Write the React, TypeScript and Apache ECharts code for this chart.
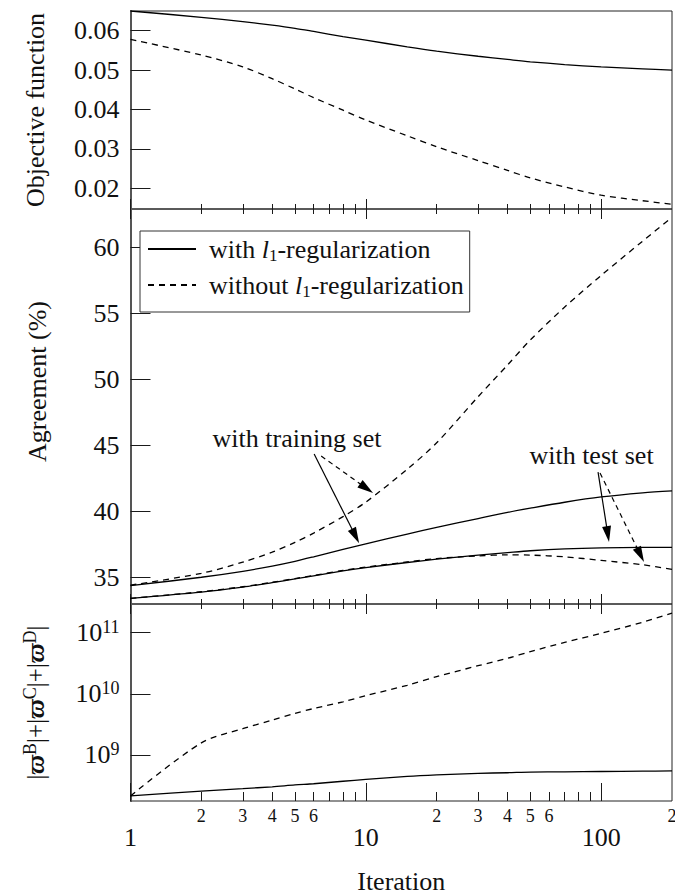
import React, { useEffect, useRef } from 'react';
import * as echarts from 'echarts';

const FONT = "'Liberation Serif', 'Times New Roman', Times, serif";

// ---- data ----
const iterations = [1, 2, 3, 4, 5, 6, 8, 10, 15, 20, 30, 40, 50, 70, 100, 150, 200];

const objectiveWith = [0.065, 0.0634, 0.0623, 0.0614, 0.0606, 0.0598, 0.0585, 0.0576, 0.0559, 0.0548, 0.0535, 0.0527, 0.0521, 0.0514, 0.0508, 0.0503, 0.05];
const objectiveWithout = [0.0578, 0.0538, 0.0508, 0.0478, 0.0452, 0.043, 0.0398, 0.0373, 0.0333, 0.0305, 0.027, 0.0245, 0.0226, 0.0203, 0.0182, 0.0168, 0.0159];

const trainWith = [34.36, 35.0, 35.45, 35.85, 36.21, 36.55, 37.11, 37.54, 38.28, 38.78, 39.45, 39.92, 40.24, 40.69, 41.09, 41.4, 41.55];
const trainWithout = [34.4, 35.3, 36.15, 36.9, 37.65, 38.35, 39.6, 40.7, 43.2, 45.2, 48.7, 51.1, 53.0, 55.5, 57.9, 60.5, 62.3];
const testWith = [33.4, 33.87, 34.25, 34.59, 34.87, 35.11, 35.48, 35.73, 36.12, 36.37, 36.68, 36.87, 37.01, 37.15, 37.23, 37.26, 37.26];
const testWithout = [33.4, 33.9, 34.28, 34.62, 34.9, 35.14, 35.52, 35.77, 36.16, 36.42, 36.62, 36.7, 36.68, 36.55, 36.28, 35.95, 35.6];

const normWith = [2.14e8, 2.57e8, 2.82e8, 3.02e8, 3.24e8, 3.39e8, 3.72e8, 3.98e8, 4.47e8, 4.73e8, 5.01e8, 5.13e8, 5.25e8, 5.31e8, 5.37e8, 5.43e8, 5.5e8];
const normWithout = [2.14e8, 1.58e9, 2.69e9, 3.72e9, 4.79e9, 5.75e9, 7.41e9, 9.33e9, 1.38e10, 1.91e10, 2.88e10, 3.8e10, 4.9e10, 6.92e10, 9.77e10, 1.48e11, 2.09e11];

// ---- axes / ticks ----
const xRange = [1, 200];
const xMajorTicks = [1, 10, 100];
const xMajorLabels = ['1', '10', '100'];
const xMinorTicks = [2, 3, 4, 5, 6, 7, 8, 9, 20, 30, 40, 50, 60, 70, 80, 90];
const xMinorLabelValues = [2, 3, 4, 5, 6, 20, 30, 40, 50, 60, 200];
const xMinorLabels = ['2', '3', '4', '5', '6', '2', '3', '4', '5', '6', '2'];

const objRange = [0.0147, 0.065];
const objTicks = [0.02, 0.03, 0.04, 0.05, 0.06];
const objLabels = ['0.02', '0.03', '0.04', '0.05', '0.06'];

const agreeRange = [32.97, 62.94];
const agreeTicks = [35, 40, 45, 50, 55, 60];
const agreeLabels = ['35', '40', '45', '50', '55', '60'];

const normRange = [1.77e8, 2.94e11];
const normTicks = [1e9, 1e10, 1e11];
const normExponents = ['9', '10', '11'];

// annotations: [fromIteration, fromAgreement, toIteration, toAgreement, dashed]
const arrows: [number, number, number, number, boolean][] = [
  [6.03, 44.35, 9.04, 38.13, false],
  [6.46, 44.2, 10.07, 41.74, true],
  [97.0, 42.98, 106.7, 38.27, false],
  [98.9, 42.91, 146.9, 36.7, true],
];
const notes: [string, number, number][] = [
  ['with training set', 5.1, 45.56],
  ['with test set', 91.0, 44.2],
];

const NAME_WITH = 'with l1-regularization';
const NAME_WITHOUT = 'without l1-regularization';

const lg = (v: number) => Math.log10(v);

function pickLabel(values: number[], texts: string[], transform: (v: number) => number) {
  return (v: number) => {
    let best = -1;
    let bd = Infinity;
    values.forEach((t, i) => {
      const d = Math.abs(transform(t) - v);
      if (d < bd) {
        bd = d;
        best = i;
      }
    });
    return bd < 1e-6 ? texts[best] : '';
  };
}

const GL = 130.5;
const GW = 541.5;

function buildOption(): any {
  const tickColor = '#1a1a1a';
  const xMin = lg(xRange[0]);
  const xMax = lg(xRange[1]);

  const xAx = (gridIndex: number, position: 'top' | 'bottom', ticks: number[], len: number, label?: any, extra?: any) => ({
    type: 'value',
    gridIndex,
    position,
    min: xMin,
    max: xMax,
    axisLine: { show: false },
    splitLine: { show: false },
    axisTick: { show: true, inside: true, length: len, customValues: ticks.map(lg), lineStyle: { color: tickColor, width: 1 } },
    axisLabel: label ?? { show: false },
    ...(extra || {}),
  });

  const xAxis = [
    xAx(0, 'bottom', xMajorTicks, 10),
    xAx(0, 'bottom', xMinorTicks, 5),
    xAx(1, 'top', xMajorTicks, 10),
    xAx(1, 'top', xMinorTicks, 5),
    xAx(1, 'bottom', xMajorTicks, 10),
    xAx(1, 'bottom', xMinorTicks, 5),
    xAx(2, 'top', xMajorTicks, 10),
    xAx(2, 'top', xMinorTicks, 5),
    xAx(
      2,
      'bottom',
      xMajorTicks,
      18,
      {
        show: true,
        customValues: xMajorTicks.map(lg),
        margin: 23,
        fontFamily: FONT,
        fontSize: 26,
        color: '#111',
        showMinLabel: true,
        showMaxLabel: true,
        hideOverlap: false,
        formatter: pickLabel(xMajorTicks, xMajorLabels, lg),
      },
      {
        name: 'Iteration',
        nameLocation: 'middle',
        nameGap: 70,
        nameTextStyle: { fontFamily: FONT, fontSize: 26, lineHeight: 20, color: '#111' },
      }
    ),
    xAx(2, 'bottom', xMinorTicks, 9, {
      show: true,
      customValues: xMinorLabelValues.map(lg),
      margin: 6,
      fontFamily: FONT,
      fontSize: 18,
      color: '#111',
      showMinLabel: true,
      showMaxLabel: true,
      hideOverlap: false,
      formatter: pickLabel(xMinorLabelValues, xMinorLabels, lg),
    }),
  ];

  const yLeft = (gridIndex: number, range: number[], ticks: number[], label: any, name: string, nameStyle: any, nameGap: number, transform = (v: number) => v) => ({
    type: 'value',
    gridIndex,
    position: 'left',
    min: transform(range[0]),
    max: transform(range[1]),
    axisLine: { show: true, lineStyle: { color: '#444', width: 2 } },
    splitLine: { show: false },
    axisTick: { show: true, inside: true, length: 20, customValues: ticks.map(transform), lineStyle: { color: tickColor, width: 1 } },
    axisLabel: { show: true, customValues: ticks.map(transform), margin: 11, fontFamily: FONT, fontSize: 26, color: '#111', showMinLabel: true, showMaxLabel: true, hideOverlap: false, ...label },
    name,
    nameLocation: 'middle',
    nameGap,
    nameRotate: 90,
    nameMoveOverlap: false,
    nameTextStyle: { fontFamily: FONT, fontSize: 26, color: '#111', ...nameStyle },
  });
  const yRight = (gridIndex: number, range: number[], transform = (v: number) => v) => ({
    type: 'value',
    gridIndex,
    position: 'right',
    min: transform(range[0]),
    max: transform(range[1]),
    axisLine: { show: true, lineStyle: { color: '#555', width: 2 } },
    splitLine: { show: false },
    axisTick: { show: false },
    axisLabel: { show: false },
  });

  const yAxis = [
    yLeft(0, objRange, objTicks, { formatter: pickLabel(objTicks, objLabels, (v) => v) }, 'Objective function', {}, 82),
    yRight(0, objRange),
    yLeft(1, agreeRange, agreeTicks, { formatter: pickLabel(agreeTicks, agreeLabels, (v) => v) }, 'Agreement (%)', { padding: [0, 0, 0, 50] }, 80),
    yRight(1, agreeRange),
    yLeft(
      2,
      normRange,
      normTicks,
      {
        formatter: (v: number) => {
          const e = pickLabel(normTicks, normExponents, lg)(v);
          return e ? `{b|10}{e|${e}}` : '';
        },
        rich: {
          b: { fontFamily: FONT, fontSize: 26, lineHeight: 30, color: '#111' },
          e: { fontFamily: FONT, fontSize: 18, lineHeight: 8, verticalAlign: 'top', color: '#111' },
        },
      },
      '{n||}{w|ϖ}{u|B}{n||+|}{w|ϖ}{u|C}{n||+|}{w|ϖ}{u|D}{n||}',
      {
        rich: {
          n: { fontFamily: FONT, fontSize: 25, lineHeight: 30, color: '#111' },
          w: { fontFamily: FONT, fontSize: 26, lineHeight: 30, fontWeight: 'bold', fontStyle: 'italic', color: '#111' },
          u: { fontFamily: FONT, fontSize: 18, lineHeight: 2, verticalAlign: 'top', color: '#111' },
        },
      },
      80,
      lg
    ),
    yRight(2, normRange, lg),
  ];

  const grid = [
    { left: GL, top: 11, width: GW, height: 198 },
    { left: GL, top: 209, width: GW, height: 395 },
    { left: GL, top: 604, width: GW, height: 197 },
  ].map((g) => ({ ...g, show: true, borderColor: '#222', borderWidth: 1, backgroundColor: 'transparent', containLabel: false, outerBoundsMode: 'none' }));

  const pts = (vals: number[], ty = (v: number) => v) => iterations.map((it, i) => [lg(it), ty(vals[i])]);
  const dash = [6, 5];
  const line = (name: string, xi: number, yi: number, data: number[][], dashed: boolean, extra?: any) => ({
    type: 'line',
    name,
    xAxisIndex: xi,
    yAxisIndex: yi,
    data,
    symbol: 'none',
    showSymbol: false,
    smooth: 0.3,
    silent: true,
    color: '#000',
    itemStyle: { color: '#000' },
    lineStyle: { color: '#000', width: 1.3, type: dashed ? dash : 'solid' },
    emphasis: { disabled: true },
    z: 3,
    ...(extra || {}),
  });

  const markLine = {
    silent: true,
    animation: false,
    symbol: ['none', 'triangle'],
    symbolSize: [0, 14],
    label: { show: false },
    emphasis: { disabled: true },
    data: arrows.map(([x1, y1, x2, y2, d]) => [
      { coord: [lg(x1), y1], lineStyle: { color: '#000', width: 1.2, type: d ? [5, 4] : 'solid' } },
      { coord: [lg(x2), y2], symbolSize: [9, 16] },
    ]),
  };
  const markPoint = {
    silent: true,
    animation: false,
    symbol: 'circle',
    symbolSize: 1,
    itemStyle: { color: 'rgba(0,0,0,0)' },
    label: { show: true, position: 'inside', fontFamily: FONT, fontSize: 26, color: '#111', formatter: (p: any) => p.name },
    emphasis: { disabled: true },
    data: notes.map(([text, it, v]) => ({ name: text, coord: [lg(it), v] })),
  };

  const series = [
    line(NAME_WITH, 0, 0, pts(objectiveWith), false),
    line(NAME_WITHOUT, 0, 0, pts(objectiveWithout), true),
    line(NAME_WITH, 2, 2, pts(trainWith), false, { markLine, markPoint }),
    line(NAME_WITHOUT, 2, 2, pts(trainWithout), true),
    line(NAME_WITH, 2, 2, pts(testWith), false),
    line(NAME_WITHOUT, 2, 2, pts(testWithout), true),
    line(NAME_WITH, 6, 4, pts(normWith, lg), false),
    line(NAME_WITHOUT, 6, 4, pts(normWithout, lg), true),
  ];

  return {
    animation: false,
    backgroundColor: '#fff',
    textStyle: { fontFamily: FONT },
    grid,
    xAxis,
    yAxis,
    legend: {
      show: true,
      orient: 'vertical',
      left: 140,
      top: 231,
      padding: [5, 6, 12, 7],
      itemGap: 8,
      itemWidth: 48,
      itemHeight: 14,
      selectedMode: false,
      borderColor: '#333',
      borderWidth: 1,
      backgroundColor: '#fff',
      itemStyle: { color: 'rgba(0,0,0,0)', borderWidth: 0, opacity: 0 },
      data: [NAME_WITH, NAME_WITHOUT],
      formatter: (name: string) => {
        const [pre, post] = name.split('l1');
        return `{t|${pre}}{i|l}{s|1}{t|${post}}`;
      },
      textStyle: {
        fontFamily: FONT,
        fontSize: 26,
        color: '#111',
        padding: [0, 0, 0, 8],
        rich: {
          t: { fontFamily: FONT, fontSize: 26, lineHeight: 30, color: '#111' },
          i: { fontFamily: FONT, fontSize: 26, lineHeight: 30, fontStyle: 'italic', color: '#111' },
          s: { fontFamily: FONT, fontSize: 17, lineHeight: 12, verticalAlign: 'bottom', color: '#111' },
        },
      },
    },
    series,
  };
}

export default function App() {
  const ref = useRef<HTMLDivElement>(null);
  useEffect(() => {
    if (!ref.current) return;
    const chart = echarts.init(ref.current, null, { renderer: 'svg' });
    chart.setOption(buildOption());
    return () => chart.dispose();
  }, []);
  return (
    <div
      ref={ref}
      style={{ position: 'absolute', left: 0, top: 0, width: 675, height: 894, background: '#fff' }}
    />
  );
}
